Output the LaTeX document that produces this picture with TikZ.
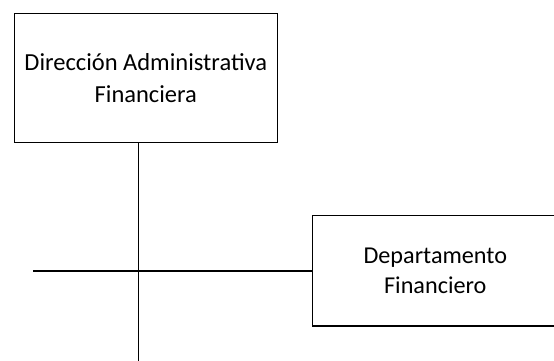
\documentclass[tikz,border=0pt]{standalone}
\usepackage{fontspec}
\setmainfont{Carlito}
\usetikzlibrary{positioning,calc}
\tikzset{%
  unit/.style={draw, rectangle, line width=1.3pt, align=center, inner sep=0pt},% org box
  bigunit/.style={unit, font=\fontsize{24.5}{32}\selectfont},% top box
  subunit/.style={unit, font=\fontsize{24.2}{30}\selectfont},% department box
  link/.style={line width=1.3pt}% org line
}
\begin{document}
\begin{tikzpicture}[x=1pt, y=1pt]
\useasboundingbox (0,0) rectangle (554,-360);

\node[bigunit, minimum width=263, minimum height=129.4] (dir) at (145.8,-78) {Dirección Administrativa\\Financiera};
\node[subunit, minimum width=245.2, minimum height=110.3] (dep) at (435.3,-270.9) {Departamento\\Financiero};

\coordinate (bot) at (138.3,-362);
\coordinate (lft) at (33.3,-270.9);

\draw[link] (dir.south -| bot) -- (bot);
\draw[link] (lft) -- (dep.west);

\end{tikzpicture}
\end{document}
